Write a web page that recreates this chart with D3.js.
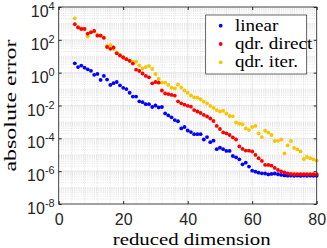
<!DOCTYPE html>
<html><head><meta charset="utf-8">
<script src="https://cdn.jsdelivr.net/npm/d3@7"></script>
<style>body{margin:0;background:#fff}svg{display:block}</style>
</head><body><svg id="c" width="327" height="248"></svg>
<script>
const dims = d3.range(5, 81);
const linearErr = [3.7,2.2,2.7,2.0,1.6,1.3,0.74,0.84,0.36,0.63,0.38,0.18,0.23,0.27,0.17,0.12,0.10,0.060,0.035,0.035,
 0.018,0.016,0.012,0.012,0.0081,0.010,0.0076,0.0081,0.0033,0.0025,0.0019,0.0013,0.0011,4.0e-4,4.9e-4,3.0e-4,2.4e-4,1.8e-4,1.8e-4,1.8e-4,
 8.5e-5,1.2e-4,5.8e-5,7.2e-5,2.2e-5,2.7e-5,2.2e-5,1.7e-5,1.7e-5,8.4e-6,7.0e-6,5.3e-6,2.6e-6,3.3e-6,1.9e-6,1.07e-6,9.3e-7,8.1e-7,7.4e-7,7.2e-7,
 6.3e-7,6.8e-7,7.2e-7,6.5e-7,5.9e-7,5.5e-7,5.3e-7,5.3e-7,5.2e-7,5.3e-7,5.2e-7,5.3e-7,5.2e-7,5.3e-7,5.2e-7,5.2e-7];
const qdrDirect = [900,565,457,463,237,288,345,179,179,133,36.6,28.5,34,15.1,11.1,8.4,6.6,5.3,3.6,1.52,
 1.26,0.89,0.63,0.52,0.225,0.27,0.245,0.082,0.054,0.050,0.044,0.040,0.018,0.0136,0.0112,0.0096,0.0085,0.0053,0.0043,0.0035,
 0.00265,0.00214,0.00162,0.00114,5.7e-4,3.7e-4,2.3e-4,2.0e-4,1.6e-4,1.13e-4,8.5e-5,3.2e-5,2.25e-5,1.8e-5,1.77e-5,1.58e-5,9.7e-6,6.1e-6,4.2e-6,2.4e-6,
 2.4e-6,2.16e-6,1.57e-6,1.18e-6,9.6e-7,8.3e-7,7.4e-7,6.8e-7,6.5e-7,6.5e-7,6.5e-7,6.5e-7,6.5e-7,6.5e-7,6.5e-7,6.5e-7];
const qdrIter = [2050,605,491,457,160,300,345,206,189,139,42,47,27.7,16.9,11.9,9.0,6.5,5.1,4.7,4.7,
 2.8,1.8,2.2,2.55,1.67,0.83,0.41,0.25,0.25,0.178,0.122,0.109,0.19,0.125,0.082,0.060,0.041,0.031,0.030,0.024,
 0.017,0.0136,0.0094,0.0071,0.0053,0.0043,0.0048,0.0033,0.0023,0.0022,9.2e-4,7.8e-4,7.2e-4,4.0e-4,3.2e-4,4.9e-4,5.7e-4,2.0e-4,1.2e-4,2.9e-4,
 2.2e-4,1.6e-4,6.9e-5,7.1e-5,8.5e-5,1.2e-5,3.7e-5,6.9e-5,2.6e-5,2.1e-5,1.6e-5,5.5e-6,7.3e-6,6.1e-6,5.3e-6,4.4e-6];
const seriesNames = ["linear", "qdr. direct", "qdr. iter."];
const seriesColors = ["#0000ff", "#ff0000", "#f7c600"];
const xTicks = [0, 20, 40, 60, 80];
const yTickExps = [-8, -6, -4, -2, 0, 2, 4];
const xLabel = "reduced dimension";
const yLabel = "absolute error";

const svg = d3.select("#c");
const L = 58.7, R = 316.7, T = 7, B = 204;
const x = d3.scaleLinear().domain([0, 80]).range([L, R]);
const y = d3.scaleLog().domain([1e-8, 1e4]).range([B, T]);
const axisCol = "#262626";
const sans = "Liberation Sans, Arial, sans-serif";
const serif = "Liberation Serif, Times New Roman, serif";

const g = svg.append("g");
// minor grid
const minorY = [];
for (let e = -8; e < 4; e++) for (let k = 2; k <= 10; k++) { if (k === 10 && (e + 1) % 2 === 0) continue; minorY.push(k * Math.pow(10, e)); }
g.selectAll("line.my").data(minorY).enter().append("line")
  .attr("x1", L).attr("x2", R).attr("y1", d => y(d)).attr("y2", d => y(d))
  .attr("stroke", "#d4d4d4").attr("stroke-width", 0.6).attr("stroke-dasharray", "1,1.2");
const minorX = d3.range(0, 81, 4).filter(v => v % 20 !== 0);
g.selectAll("line.mx").data(minorX).enter().append("line")
  .attr("y1", T).attr("y2", B).attr("x1", d => x(d)).attr("x2", d => x(d))
  .attr("stroke", "#d4d4d4").attr("stroke-width", 0.6).attr("stroke-dasharray", "1,1.2");
// major grid
g.selectAll("line.gy").data(yTickExps.map(e => Math.pow(10, e))).enter().append("line")
  .attr("x1", L).attr("x2", R).attr("y1", d => y(d)).attr("y2", d => y(d))
  .attr("stroke", "#dcdcdc").attr("stroke-width", 0.7);
g.selectAll("line.gx").data(xTicks).enter().append("line")
  .attr("y1", T).attr("y2", B).attr("x1", d => x(d)).attr("x2", d => x(d))
  .attr("stroke", "#dcdcdc").attr("stroke-width", 0.7);

// data: yellow, blue, red order
const order = [2, 0, 1];
const allSeries = [linearErr, qdrDirect, qdrIter];
order.forEach(i => {
  svg.append("g").selectAll("circle").data(allSeries[i]).enter().append("circle")
    .attr("cx", (d, j) => x(dims[j])).attr("cy", d => y(d)).attr("r", 1.9)
    .attr("fill", seriesColors[i]);
});

// axes (ticks inward)
const xAxis = d3.axisBottom(x).tickValues(xTicks).tickSize(-3).tickPadding(10).tickFormat(d3.format("d"));
const ax = svg.append("g").attr("transform", `translate(0,${B})`).call(xAxis);
ax.select(".domain").remove();
ax.selectAll("line").attr("stroke", axisCol);
ax.selectAll("text").attr("font-family", sans).attr("font-size", 16).attr("fill", axisCol);
svg.append("g").attr("transform", `translate(0,${T})`).call(d3.axisTop(x).tickValues(xTicks).tickSize(-3).tickFormat(""))
  .call(s => { s.select(".domain").remove(); s.selectAll("line").attr("stroke", axisCol); });

const yAxis = d3.axisLeft(y).tickValues(yTickExps.map(e => Math.pow(10, e))).tickSize(-3).tickFormat("");
const ay = svg.append("g").attr("transform", `translate(${L},0)`).call(yAxis);
ay.select(".domain").remove();
ay.selectAll("line").attr("stroke", axisCol);
svg.append("g").attr("transform", `translate(${R},0)`).call(d3.axisRight(y).tickValues(yTickExps.map(e => Math.pow(10, e))).tickSize(-3).tickFormat(""))
  .call(s => { s.select(".domain").remove(); s.selectAll("line").attr("stroke", axisCol); });

yTickExps.forEach(e => {
  const t = svg.append("text").attr("x", L - 4).attr("y", y(Math.pow(10, e)) + 10)
    .attr("text-anchor", "end").attr("font-family", sans).attr("fill", axisCol);
  t.append("tspan").attr("font-size", 16).text("10");
  t.append("tspan").attr("font-size", 11).attr("dy", -7).text(String(e));
});

svg.append("rect").attr("x", L).attr("y", T).attr("width", R - L).attr("height", B - T)
  .attr("fill", "none").attr("stroke", axisCol).attr("stroke-width", 0.8);

svg.append("text").attr("x", (L + R) / 2 + 4).attr("y", 244.5).attr("text-anchor", "middle")
  .attr("font-family", serif).attr("font-size", 17.5).attr("fill", "#000")
  .attr("textLength", 158).attr("lengthAdjust", "spacingAndGlyphs").text(xLabel);
svg.append("text").attr("transform", `translate(16,${(T + B) / 2}) rotate(-90)`).attr("text-anchor", "middle")
  .attr("font-family", serif).attr("font-size", 17.5).attr("fill", "#000")
  .attr("textLength", 132).attr("lengthAdjust", "spacingAndGlyphs").text(yLabel);

// legend
const lg = svg.append("g");
lg.append("rect").attr("x", 205.7).attr("y", 15).attr("width", 101).attr("height", 59)
  .attr("fill", "#fff").attr("stroke", axisCol).attr("stroke-width", 0.7);
seriesNames.forEach((n, i) => {
  const yy = 25.7 + i * 18.3;
  lg.append("circle").attr("cx", 220.7).attr("cy", yy).attr("r", 1.9).attr("fill", seriesColors[i]);
  const t = lg.append("text").attr("x", 235).attr("y", yy + 5).attr("font-family", serif).attr("font-size", 17)
    .attr("fill", "#000").text(n);
  const w = t.node().getComputedTextLength();
  t.attr("textLength", w * 1.12).attr("lengthAdjust", "spacingAndGlyphs");
});
</script></body></html>
